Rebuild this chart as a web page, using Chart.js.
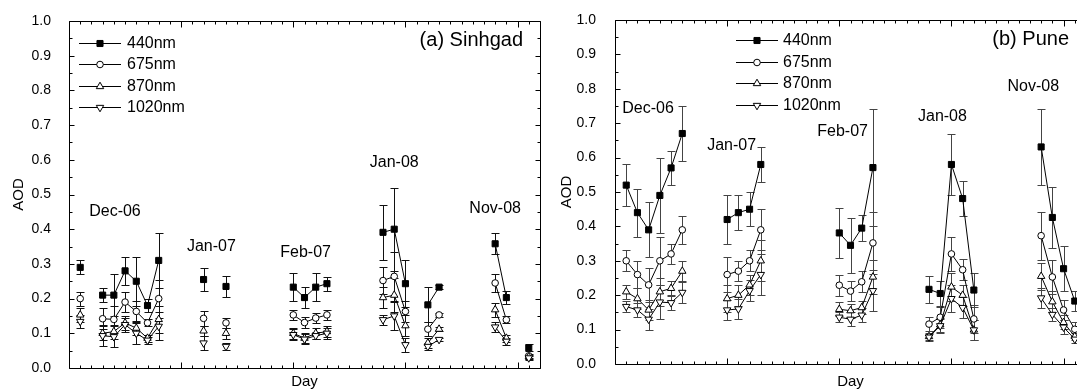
<!DOCTYPE html>
<html>
<head>
<meta charset="utf-8">
<script src="https://cdn.jsdelivr.net/npm/chart.js@4/dist/chart.umd.min.js"></script>
<style>
html,body{margin:0;padding:0;overflow:hidden;background:#fff;width:1077px;height:391px}
.wrap{position:absolute;top:0;height:391px;width:546px}
canvas{display:block}
</style>
</head>
<body>
<div class="wrap" style="left:0"><canvas id="ca" width="546" height="391"></canvas></div>
<div class="wrap" style="left:546px"><canvas id="cb" width="546" height="391"></canvas></div>
<script>
// ---------- data ----------
const seriesNames = ['440nm', '675nm', '870nm', '1020nm'];
const monthLabels = ['Dec-06', 'Jan-07', 'Feb-07', 'Jan-08', 'Nov-08'];
const yTicks = [0.0, 0.1, 0.2, 0.3, 0.4, 0.5, 0.6, 0.7, 0.8, 0.9, 1.0];

// (a) Sinhgad
const sinhgadDays = [1, 3, 4, 5, 6, 7, 8, 12, 14, 20, 21, 22, 23, 28, 29, 30, 32, 33, 38, 39, 41];
const sinhgad440  = [0.29, 0.21, 0.21, 0.28, 0.25, 0.18, 0.31, 0.255, 0.235, 0.233, 0.203, 0.233, 0.243, 0.391, 0.40, 0.243, 0.182, 0.233, 0.358, 0.203, 0.058];
const sinhgad440Err = [0.02, 0.02, 0.06, 0.04, 0.07, 0.02, 0.08, 0.033, 0.03, 0.04, 0.03, 0.04, 0.02, 0.08, 0.12, 0.067, 0.05, 0.005, 0.03, 0.02, 0.01];
const sinhgad675  = [0.20, 0.142, 0.14, 0.19, 0.163, 0.13, 0.20, 0.143, 0.13, 0.153, 0.131, 0.144, 0.153, 0.252, 0.264, 0.163, 0.112, 0.153, 0.245, 0.139, 0.035];
const sinhgad675Err = [0.02, 0.03, 0.04, 0.03, 0.03, 0.01, 0.055, 0.022, 0.015, 0.015, 0.015, 0.015, 0.015, 0.04, 0.07, 0.03, 0.02, 0.005, 0.025, 0.01, 0.005];
const sinhgad870  = [0.153, 0.10, 0.105, 0.13, 0.115, 0.086, 0.14, 0.107, 0.10, 0.10, 0.086, 0.10, 0.105, 0.203, 0.21, 0.122, 0.072, 0.112, 0.168, 0.086, 0.032];
const sinhgad870Err = [0.02, 0.02, 0.02, 0.02, 0.02, 0.01, 0.04, 0.015, 0.015, 0.015, 0.015, 0.015, 0.015, 0.03, 0.05, 0.03, 0.015, 0.005, 0.02, 0.01, 0.005];
const sinhgad1020 = [0.134, 0.093, 0.09, 0.125, 0.10, 0.08, 0.12, 0.072, 0.062, 0.096, 0.083, 0.093, 0.10, 0.139, 0.15, 0.067, 0.062, 0.082, 0.118, 0.077, 0.029];
const sinhgad1020Err = [0.02, 0.03, 0.03, 0.02, 0.03, 0.01, 0.04, 0.02, 0.01, 0.015, 0.015, 0.01, 0.015, 0.015, 0.04, 0.02, 0.01, 0.005, 0.015, 0.01, 0.005];
const sinhgadLabelAt = [[4.1, 0.452], [12.7, 0.349], [21.1, 0.332], [29.0, 0.592], [38.0, 0.459]];

// (b) Pune
const puneDays = [1, 2, 3, 4, 5, 6, 10, 11, 12, 13, 20, 21, 22, 23, 28, 29, 30, 31, 32, 38, 39, 40, 41];
const pune440  = [0.52, 0.44, 0.39, 0.49, 0.57, 0.67, 0.42, 0.44, 0.45, 0.58, 0.381, 0.345, 0.395, 0.571, 0.217, 0.205, 0.58, 0.481, 0.215, 0.631, 0.426, 0.277, 0.183];
const pune440Err = [0.06, 0.07, 0.08, 0.11, 0.05, 0.08, 0.07, 0.05, 0.05, 0.05, 0.072, 0.08, 0.037, 0.17, 0.04, 0.035, 0.09, 0.05, 0.05, 0.11, 0.088, 0.065, 0.03];
const pune675  = [0.30, 0.26, 0.23, 0.30, 0.32, 0.39, 0.26, 0.27, 0.30, 0.39, 0.229, 0.212, 0.239, 0.352, 0.116, 0.136, 0.32, 0.274, 0.131, 0.373, 0.253, 0.157, 0.101];
const pune675Err = [0.03, 0.04, 0.05, 0.07, 0.03, 0.04, 0.05, 0.03, 0.03, 0.06, 0.03, 0.03, 0.03, 0.09, 0.02, 0.03, 0.05, 0.03, 0.04, 0.07, 0.05, 0.03, 0.02];
const pune870  = [0.21, 0.19, 0.157, 0.21, 0.22, 0.27, 0.19, 0.20, 0.23, 0.30, 0.159, 0.155, 0.164, 0.253, 0.08, 0.114, 0.224, 0.20, 0.099, 0.255, 0.181, 0.121, 0.08];
const pune870Err = [0.02, 0.03, 0.03, 0.04, 0.02, 0.03, 0.04, 0.03, 0.03, 0.06, 0.02, 0.02, 0.02, 0.05, 0.01, 0.02, 0.04, 0.03, 0.03, 0.04, 0.03, 0.02, 0.01];
const pune1020 = [0.167, 0.157, 0.13, 0.18, 0.178, 0.208, 0.157, 0.16, 0.213, 0.26, 0.136, 0.13, 0.142, 0.213, 0.078, 0.111, 0.19, 0.164, 0.099, 0.192, 0.144, 0.107, 0.072];
const pune1020Err = [0.015, 0.02, 0.03, 0.05, 0.02, 0.03, 0.03, 0.03, 0.03, 0.06, 0.015, 0.02, 0.02, 0.06, 0.01, 0.02, 0.04, 0.03, 0.03, 0.03, 0.02, 0.02, 0.01];
const puneLabelAt = [[2.95, 0.743], [10.4, 0.636], [20.3, 0.675], [29.2, 0.72], [37.3, 0.805]];

// ---------- styles ----------
const FONT = "'Liberation Sans', Arial, sans-serif";
const markerStyles = [
  { pointStyle: 'rect', radius: 4.3, fill: '#000', rotation: 0 },
  { pointStyle: 'circle', radius: 3.3, fill: '#fff', rotation: 0 },
  { pointStyle: 'triangle', radius: 4.3, fill: '#fff', rotation: 0 },
  { pointStyle: 'triangle', radius: 4.3, fill: '#fff', rotation: 180 }
];

function toPoints(days, vals) {
  const pts = [];
  for (let i = 0; i < days.length; i++) {
    if (i > 0 && days[i] - days[i - 1] > 1) pts.push({ x: days[i - 1] + 1, y: null });
    pts.push({ x: days[i], y: vals[i] });
  }
  return pts;
}

function makeDatasets(days, vals, errs) {
  return vals.map((v, k) => ({
    label: seriesNames[k],
    data: toPoints(days, v),
    days: days, vals: v, errs: errs[k],
    borderColor: '#000', borderWidth: 1, tension: 0, spanGaps: false, fill: false,
    pointStyle: markerStyles[k].pointStyle,
    pointRadius: markerStyles[k].radius,
    pointRotation: markerStyles[k].rotation,
    pointBackgroundColor: markerStyles[k].fill,
    pointBorderColor: '#000', pointBorderWidth: 1,
    order: 4 - k
  }));
}

function drawMarker(ctx, st, x, y) {
  ctx.save();
  ctx.fillStyle = st.fill; ctx.strokeStyle = '#000'; ctx.lineWidth = 1;
  if (Chart.helpers && Chart.helpers.drawPoint) {
    Chart.helpers.drawPoint(ctx, { pointStyle: st.pointStyle, radius: st.radius, rotation: st.rotation, borderWidth: 1 }, x, y);
  }
  ctx.restore();
}

const decor = {
  id: 'decor',
  beforeDatasetsDraw(chart, args, o) {
    const ctx = chart.ctx, xs = chart.scales.x, ys = chart.scales.y;
    ctx.save();
    ctx.strokeStyle = o.errColor; ctx.lineWidth = 1;
    chart.data.datasets.forEach(ds => {
      ds.days.forEach((d, i) => {
        const v = ds.vals[i], e = ds.errs[i];
        const px = Math.round(xs.getPixelForValue(d)) + 0.5;
        const t = Math.round(ys.getPixelForValue(v + e)) + 0.5;
        const b = Math.round(ys.getPixelForValue(v - e)) + 0.5;
        ctx.beginPath();
        ctx.moveTo(px, t); ctx.lineTo(px, b);
        ctx.moveTo(px - 4, t); ctx.lineTo(px + 4, t);
        ctx.moveTo(px - 4, b); ctx.lineTo(px + 4, b);
        ctx.stroke();
      });
    });
    ctx.restore();
  },
  afterDatasetsDraw(chart, args, o) {
    const ctx = chart.ctx, xs = chart.scales.x, ys = chart.scales.y, a = chart.chartArea;
    const L = Math.round(a.left) + 0.5, R = Math.round(a.right) + 0.5;
    const T = Math.round(a.top) + 0.5, B = Math.round(a.bottom) + 0.5;
    ctx.save();
    ctx.strokeStyle = '#000'; ctx.lineWidth = 1;
    ctx.beginPath();
    ctx.rect(L, T, R - L, B - T);
    // x ticks (inward, bottom & top)
    for (let d = xs.min; d <= xs.max; d += 1) {
      const px = Math.round(xs.getPixelForValue(d)) + 0.5;
      const len = d % 10 === 0 ? 6 : 3;
      ctx.moveTo(px, B); ctx.lineTo(px, B - len);
      ctx.moveTo(px, T); ctx.lineTo(px, T + len);
    }
    // y ticks (inward, left & right)
    for (let k = 0; k <= 20; k++) {
      const v = k * 0.05;
      const py = Math.round(ys.getPixelForValue(v)) + 0.5;
      const len = k % 2 === 0 ? 5 : 3;
      ctx.moveTo(L, py); ctx.lineTo(L + len, py);
      ctx.moveTo(R, py); ctx.lineTo(R - len, py);
    }
    ctx.stroke();

    // month labels
    ctx.fillStyle = '#000';
    ctx.font = '16px ' + FONT;
    ctx.textAlign = 'center'; ctx.textBaseline = 'middle';
    monthLabels.forEach((m, i) => {
      const p = o.labelAt[i];
      ctx.fillText(m, xs.getPixelForValue(p[0]), ys.getPixelForValue(p[1]));
    });

    // panel title
    ctx.font = '20px ' + FONT;
    ctx.textAlign = 'right';
    ctx.fillText(o.title, a.right - 17, a.top + 19);

    // legend
    ctx.font = '16px ' + FONT;
    ctx.textAlign = 'left';
    seriesNames.forEach((n, i) => {
      const y = a.top + o.legY + i * 21.5;
      const x0 = a.left + o.legX0, x1 = a.left + o.legX1;
      ctx.beginPath();
      ctx.moveTo(x0, Math.round(y) + 0.5); ctx.lineTo(x1, Math.round(y) + 0.5);
      ctx.strokeStyle = '#000'; ctx.lineWidth = 1; ctx.stroke();
      drawMarker(ctx, markerStyles[i], (x0 + x1) / 2, Math.round(y) + 0.5);
      ctx.fillStyle = '#000';
      ctx.fillText(n, a.left + o.legTx, y + 1);
    });
    ctx.restore();
  }
};

function makeChart(id, days, vals, errs, cfg) {
  return new Chart(document.getElementById(id), {
    type: 'line',
    data: { datasets: makeDatasets(days, vals, errs) },
    plugins: [decor],
    options: {
      responsive: false, animation: false, events: [],
      layout: { padding: { left: 0, right: 6, top: cfg.top, bottom: 0 } },
      plugins: {
        legend: { display: false }, tooltip: { enabled: false },
        decor: cfg.decor
      },
      scales: {
        x: {
          type: 'linear', min: 0, max: 42,
          grid: { display: false }, border: { display: false },
          ticks: { display: false },
          title: { display: true, text: 'Day', color: '#000', font: { family: FONT, size: 15 }, padding: { top: 0, bottom: 0 } },
          afterFit: s => { s.height = cfg.xh; }
        },
        y: {
          min: 0, max: 1,
          grid: { display: false }, border: { display: false },
          afterBuildTicks: s => { s.ticks = yTicks.map(v => ({ value: v })); },
          ticks: { color: '#000', font: { family: FONT, size: 14 }, padding: cfg.tickPad, callback: v => Number(v).toFixed(1) },
          title: { display: true, text: 'AOD', color: '#000', font: { family: FONT, size: 15 }, padding: { top: cfg.titlePad, bottom: 0 } },
          afterFit: s => { s.width = cfg.yw; }
        }
      }
    }
  });
}

makeChart('ca', sinhgadDays,
  [sinhgad440, sinhgad675, sinhgad870, sinhgad1020],
  [sinhgad440Err, sinhgad675Err, sinhgad870Err, sinhgad1020Err],
  { top: 21, xh: 23, yw: 69, tickPad: 10, titlePad: 10,
    decor: { title: '(a) Sinhgad', labelAt: sinhgadLabelAt, errColor: '#111', legY: 21.5, legX0: 10, legX1: 52, legTx: 58 } });

makeChart('cb', puneDays,
  [pune440, pune675, pune870, pune1020],
  [pune440Err, pune675Err, pune870Err, pune1020Err],
  { top: 20, xh: 27, yw: 69, tickPad: 11, titlePad: 12,
    decor: { title: '(b) Pune', labelAt: puneLabelAt, errColor: '#444', legY: 20, legX0: 121, legX1: 163, legTx: 168 } });
</script>
</body>
</html>
